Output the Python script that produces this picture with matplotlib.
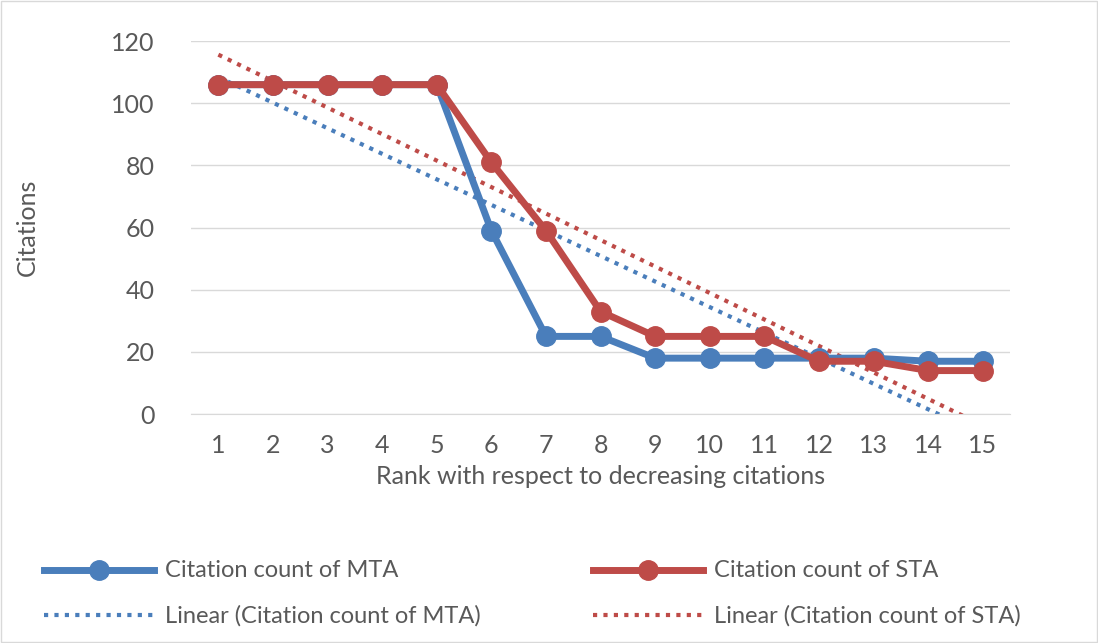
import numpy as np
import matplotlib.pyplot as plt
from matplotlib.patches import Rectangle

plt.rcParams['font.family'] = ['Lato', 'DejaVu Sans']

ranks = np.arange(1, 16)
mta = [106, 106, 106, 106, 106, 59, 25, 25, 18, 18, 18, 18, 18, 17, 17]
sta = [106, 106, 106, 106, 106, 81, 59, 33, 25, 25, 25, 17, 17, 14, 14]

blue = '#4a7ebb'
red = '#be4b48'
grey = '#595959'

fig = plt.figure(figsize=(10.98, 6.43), dpi=100)
ax = fig.add_axes([0.174, 0.356, 0.746, 0.58])

for ys, c in [(mta, blue), (sta, red)]:
    k, b = np.polyfit(ranks, ys, 1)
    xs = np.linspace(1, 15, 200)
    ax.plot(xs, k * xs + b, linestyle=(0, (1, 1.5)), color=c, linewidth=3, zorder=2)

ax.plot(ranks, mta, color=blue, linewidth=5, marker='o', markersize=14, zorder=3)
ax.plot(ranks, sta, color=red, linewidth=5, marker='o', markersize=14, zorder=4)

ax.set_xlim(0.5, 15.5)
ax.set_ylim(0, 120)
ax.set_yticks(range(0, 121, 20))
ax.set_xticks(ranks)
ax.grid(axis='y', color='#d9d9d9', linewidth=1)
ax.set_axisbelow(True)
for s in ['top', 'right', 'left']:
    ax.spines[s].set_visible(False)
ax.spines['bottom'].set_color('#d9d9d9')
ax.tick_params(axis='x', length=0, labelsize=18, colors=grey, pad=14)
ax.tick_params(axis='y', length=0, labelsize=18, colors=grey, pad=26)
ax.set_xlabel('Rank with respect to decreasing citations', fontsize=18, color=grey, labelpad=6)
ax.set_ylabel('Citations', fontsize=18, color=grey, labelpad=52)

# legend
items = [
    (0.04, 0.113, blue, '-', 'o', 'Citation count of MTA'),
    (0.54, 0.113, red, '-', 'o', 'Citation count of STA'),
    (0.04, 0.043, blue, ':', None, 'Linear (Citation count of MTA)'),
    (0.54, 0.043, red, ':', None, 'Linear (Citation count of STA)'),
]
for x0, y0, c, ls, mk, label in items:
    if mk:
        fig.add_artist(plt.Line2D([x0, x0 + 0.1], [y0, y0], color=c, linewidth=5, transform=fig.transFigure))
        fig.add_artist(plt.Line2D([x0 + 0.05], [y0], color=c, marker='o', markersize=14, transform=fig.transFigure))
    else:
        fig.add_artist(plt.Line2D([x0, x0 + 0.1], [y0, y0], color=c, linewidth=3,
                                  linestyle=(0, (1, 1.5)), transform=fig.transFigure))
    fig.text(x0 + 0.11, y0, label, fontsize=17, color=grey, va='center')

fig.add_artist(Rectangle((0.001, 0.001), 0.998, 0.998, transform=fig.transFigure,
                         fill=False, edgecolor='#d9d9d9', linewidth=1))
fig.savefig('out.png', dpi=100)
